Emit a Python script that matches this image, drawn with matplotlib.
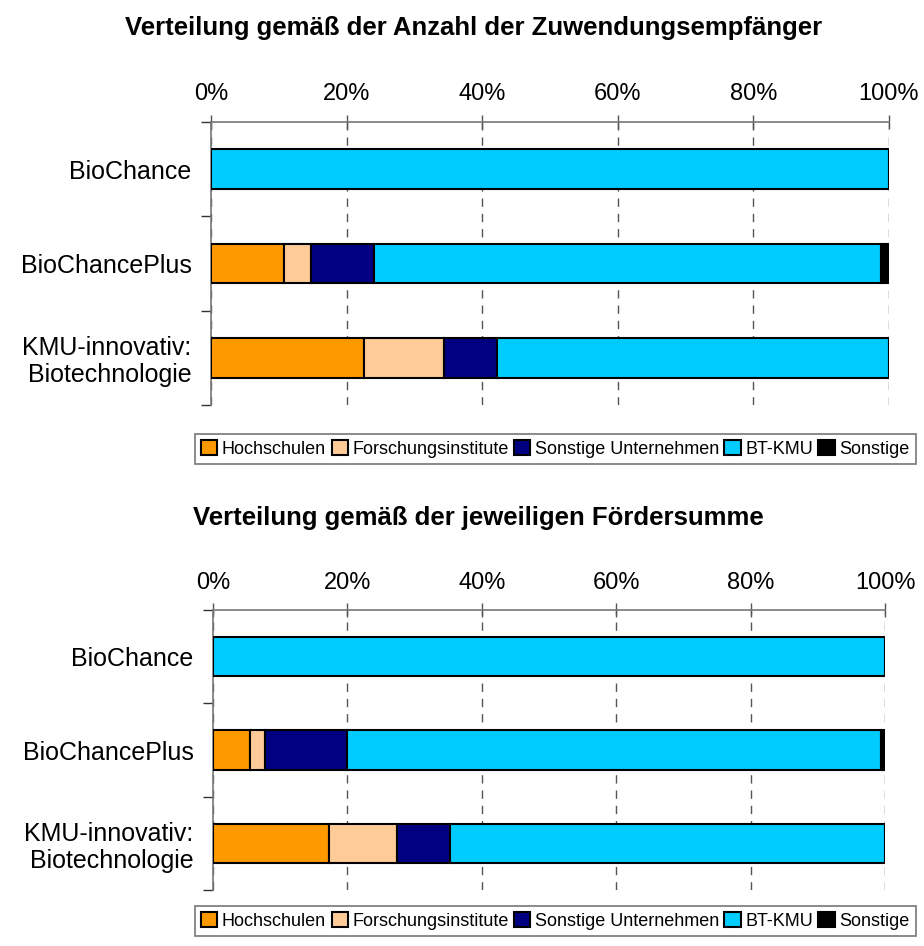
import numpy as np
import matplotlib.pyplot as plt

plt.rcParams['font.family'] = ['Liberation Sans', 'DejaVu Sans']

# Programme (Kategorien)
programme = ["BioChance", "BioChancePlus", "KMU-innovativ:\nBiotechnologie"]
gruppen = ["Hochschulen", "Forschungsinstitute", "Sonstige Unternehmen", "BT-KMU", "Sonstige"]
farben = ["#FF9900", "#FFCC99", "#000080", "#00CCFF", "#000000"]

# Anteile in % nach Anzahl der Zuwendungsempfänger
anzahl_hochschulen = [0.0, 10.7, 22.5]
anzahl_institute = [0.0, 4.0, 11.9]
anzahl_unternehmen = [0.0, 9.4, 7.8]
anzahl_btkmu = [100.0, 74.7, 57.8]
anzahl_sonstige = [0.0, 1.2, 0.0]

# Anteile in % nach Fördersumme
summe_hochschulen = [0.0, 5.5, 17.3]
summe_institute = [0.0, 2.3, 10.1]
summe_unternehmen = [0.0, 12.2, 7.9]
summe_btkmu = [100.0, 79.4, 64.7]
summe_sonstige = [0.0, 0.6, 0.0]

x_ticks = [0, 20, 40, 60, 80, 100]
x_labels = ["0%", "20%", "40%", "60%", "80%", "100%"]

fig = plt.figure(figsize=(9.24, 9.46), dpi=100)


def zeichne(ax, reihen, titel, titel_y, titel_x, legende_y):
    y = np.arange(len(programme))
    links = np.zeros(len(programme))
    handles = []
    for werte, farbe, name in zip(reihen, farben, gruppen):
        werte = np.array(werte)
        b = ax.barh(y, werte, left=links, height=0.42, color=farbe,
                    edgecolor="black", linewidth=1.5, label=name, zorder=3)
        handles.append(b)
        links = links + werte
    ax.set_xlim(0, 100)
    ax.set_ylim(2.5, -0.5)
    ax.xaxis.tick_top()
    ax.set_xticks(x_ticks)
    ax.set_xticklabels(x_labels, fontsize=17)
    ax.tick_params(axis="x", direction="inout", length=10, width=1,
                   color="#555555", pad=7)
    ax.set_yticks(y)
    ax.set_yticklabels(programme, fontsize=18, linespacing=1.15)
    ax.tick_params(axis="y", which="major", length=0, pad=14)
    ax.set_yticks([-0.5, 0.5, 1.5, 2.5], minor=True)
    ax.tick_params(axis="y", which="minor", length=7, width=1, color="#333333")
    ax.grid(axis="x", linestyle=(0, (6, 5)), color="#555555", linewidth=1, zorder=0)
    for s in ["right", "bottom"]:
        ax.spines[s].set_visible(False)
    for s in ["left", "top"]:
        ax.spines[s].set_color("#777777")
        ax.spines[s].set_linewidth(1.2)
    fig.text(titel_x, titel_y, titel, fontsize=18.5, fontweight="bold",
             ha="center", va="center")
    leg = fig.legend(handles=handles, labels=gruppen, loc="center",
                     bbox_to_anchor=(0.601, legende_y), ncol=5,
                     prop={"size": 13},
                     handlelength=0.9, handleheight=0.9, handletextpad=0.25,
                     columnspacing=0.3, borderpad=0.35, borderaxespad=0,
                     fancybox=False, frameon=True, edgecolor="#555555")
    leg.get_frame().set_linewidth(1.2)


ax1 = fig.add_axes([0.2284, 0.572, 0.7336, 0.299])
zeichne(ax1, [anzahl_hochschulen, anzahl_institute, anzahl_unternehmen,
              anzahl_btkmu, anzahl_sonstige],
        "Verteilung gemäß der Anzahl der Zuwendungsempfänger", 1 - 28 / 946, 0.513,
        1 - 449 / 946)

ax2 = fig.add_axes([0.2305, 0.0592, 0.7273, 0.2958])
zeichne(ax2, [summe_hochschulen, summe_institute, summe_unternehmen,
              summe_btkmu, summe_sonstige],
        "Verteilung gemäß der jeweiligen Fördersumme", 1 - 518 / 946, 0.518,
        1 - 921 / 946)

fig.savefig("out.png", dpi=100)
